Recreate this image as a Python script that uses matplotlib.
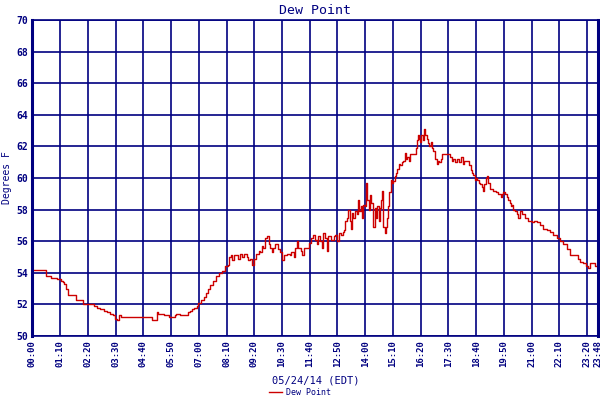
import matplotlib
matplotlib.use("Agg")
import matplotlib.pyplot as plt

# minutes since midnight, dew point in degrees F
minutes = [0, 32, 35, 47, 61, 71, 77, 81, 85, 90, 108, 110, 125, 127, 146, 155, 163, 171,
           180, 188, 197, 203, 209, 214, 219, 224, 302, 303, 314, 315, 317, 331, 346, 358,
           360, 363, 373, 392, 397, 403, 408, 415, 419, 425, 432, 439, 444, 449, 451, 457,
           463, 470, 478, 487, 493, 497, 502, 505, 510, 516, 520, 524, 529, 535, 541, 545,
           550, 555, 559, 564, 571, 575, 579, 583, 587, 592, 596, 600, 604, 608, 613, 619,
           625, 631, 636, 642, 649, 653, 659, 663, 667, 671, 678, 681, 686, 692, 698, 703,
           709, 713, 718, 722, 726, 730, 734, 739, 743, 747, 754, 760, 764, 770, 774, 779,
           783, 787, 789, 793, 797, 802, 804, 807, 810, 814, 819, 823, 825, 829, 832, 835,
           839, 842, 845, 849, 852, 855, 859, 860, 864, 867, 870, 874, 877, 881, 883, 886,
           889, 892, 896, 898, 901, 904, 908, 911, 914, 918, 921, 924, 928, 932, 936, 940,
           943, 946, 950, 953, 957, 966, 968, 971, 974, 976, 979, 981, 985, 988, 992, 995,
           998, 1002, 1005, 1008, 1012, 1016, 1020, 1024, 1027, 1030, 1034, 1041, 1050, 1054,
           1058, 1062, 1066, 1071, 1077, 1082, 1086, 1089, 1100, 1102, 1106, 1109, 1113, 1116,
           1119, 1123, 1126, 1129, 1134, 1138, 1141, 1145, 1148, 1151, 1155, 1163, 1170, 1176,
           1182, 1185, 1188, 1192, 1197, 1201, 1205, 1208, 1210, 1213, 1218, 1222, 1226, 1230,
           1235, 1243, 1251, 1260, 1266, 1274, 1281, 1289, 1298, 1306, 1314, 1323, 1331, 1339,
           1348, 1356, 1373, 1377, 1381, 1390, 1398, 1402, 1407, 1415, 1419, 1428]
dewpoint = [54.2, 54.2, 53.8, 53.7, 53.6, 53.5, 53.4, 53.3, 53.0, 52.6, 52.6, 52.3, 52.3, 52.0,
            52.0, 51.9, 51.8, 51.7, 51.6, 51.5, 51.4, 51.3, 51.1, 51.0, 51.3, 51.2, 51.2, 51.0,
            51.0, 51.5, 51.4, 51.3, 51.2, 51.2, 51.3, 51.4, 51.3, 51.5, 51.6, 51.7, 51.8, 51.9,
            52.1, 52.3, 52.5, 52.7, 53.0, 53.2, 53.2, 53.5, 53.8, 54.0, 54.1, 54.4, 54.5, 55.0,
            55.1, 54.8, 55.1, 55.1, 54.9, 55.2, 55.0, 55.2, 55.0, 54.8, 54.9, 54.5, 54.9, 55.2,
            55.4, 55.3, 55.7, 55.6, 56.2, 56.3, 55.8, 55.6, 55.3, 55.6, 55.8, 55.5, 55.3, 54.8,
            55.1, 55.2, 55.1, 55.3, 55.0, 55.6, 56.0, 55.6, 55.4, 55.1, 55.6, 55.6, 55.9, 56.2,
            56.4, 56.1, 55.8, 56.3, 56.0, 55.6, 56.5, 56.2, 55.4, 56.3, 56.1, 56.3, 56.4, 56.0,
            56.5, 56.4, 56.6, 56.7, 57.3, 57.5, 58.0, 57.3, 56.8, 57.8, 57.5, 57.9, 57.7, 58.6,
            57.9, 58.2, 57.5, 58.3, 58.2, 59.7, 58.6, 58.0, 58.9, 58.4, 57.7, 56.9, 58.1, 57.5,
            58.2, 57.3, 58.1, 58.6, 59.2, 56.9, 56.5, 56.9, 57.5, 58.2, 59.1, 59.9, 59.7, 59.8,
            60.1, 60.3, 60.6, 60.9, 60.8, 61.0, 61.1, 61.6, 61.2, 61.3, 61.1, 61.5, 61.5, 61.5,
            61.9, 62.4, 62.7, 62.5, 62.3, 62.7, 62.4, 63.1, 62.7, 62.5, 62.2, 62.0, 62.3, 61.9,
            61.7, 61.2, 60.9, 61.1, 61.0, 61.2, 61.5, 61.5, 61.5, 61.3, 61.1, 61.2, 61.0, 61.2,
            61.0, 61.3, 60.9, 61.1, 61.1, 60.8, 60.5, 60.3, 60.2, 59.9, 60.0, 59.9, 59.7, 59.6,
            59.4, 59.2, 59.6, 60.0, 60.1, 59.7, 59.3, 59.2, 59.1, 59.0, 58.8, 59.0, 59.1, 59.0,
            58.8, 58.6, 58.4, 58.2, 58.3, 58.0, 57.9, 57.7, 57.5, 57.9, 57.7, 57.5, 57.3, 57.2,
            57.3, 57.2, 57.0, 56.8, 56.7, 56.6, 56.4, 56.2, 56.0, 55.8, 55.5, 55.1, 55.1, 54.9,
            54.7, 54.6, 54.4, 54.3, 54.6, 54.6, 54.4, 54.4]

xtick_pos = [0, 70, 140, 210, 280, 350, 420, 490, 560, 630, 700, 770, 840, 910, 980,
             1050, 1120, 1190, 1260, 1330, 1400, 1428]
xtick_labels = ["00:00", "01:10", "02:20", "03:30", "04:40", "05:50", "07:00", "08:10",
                "09:20", "10:30", "11:40", "12:50", "14:00", "15:10", "16:20", "17:30",
                "18:40", "19:50", "21:00", "22:10", "23:20", "23:48"]
ytick_pos = [50, 52, 54, 56, 58, 60, 62, 64, 66, 68, 70]

navy = "#000080"
red = "#cc0000"
mono = "DejaVu Sans Mono"

fig = plt.figure(figsize=(6, 4), dpi=100)
ax = fig.add_axes([0.054, 0.16, 0.943, 0.79])

ax.plot(minutes, dewpoint, color=red, lw=1.0, drawstyle="steps-post", label="Dew Point")

ax.set_xlim(0, 1428)
ax.set_ylim(50, 70)
ax.set_xticks(xtick_pos)
ax.set_xticklabels(xtick_labels, rotation=90, family=mono, fontsize=6.5,
                   fontweight="bold", color=navy)
ax.set_yticks(ytick_pos)
ax.set_yticklabels([str(v) for v in ytick_pos], family=mono, fontsize=7,
                   fontweight="bold", color=navy)
ax.tick_params(length=0, pad=3)
ax.grid(True, color=navy, lw=1.2)
ax.set_axisbelow(True)
for side in ["left", "right"]:
    ax.spines[side].set_color(navy)
    ax.spines[side].set_linewidth(2.2)
for side in ["top", "bottom"]:
    ax.spines[side].set_color(navy)
    ax.spines[side].set_linewidth(1.2)

ax.set_title("Dew Point", family=mono, fontsize=9.5, color=navy, pad=4)
ax.set_ylabel("Degrees F", family=mono, fontsize=7, color=navy, labelpad=3)
ax.set_xlabel("05/24/14 (EDT)", family=mono, fontsize=7.5, color=navy, labelpad=6)

fig.legend(loc="lower center", bbox_to_anchor=(0.5, -0.012), frameon=False,
           prop={"family": mono, "size": 6}, labelcolor=navy,
           handlelength=1.6, handletextpad=0.4)

fig.savefig("out.png", dpi=100)
